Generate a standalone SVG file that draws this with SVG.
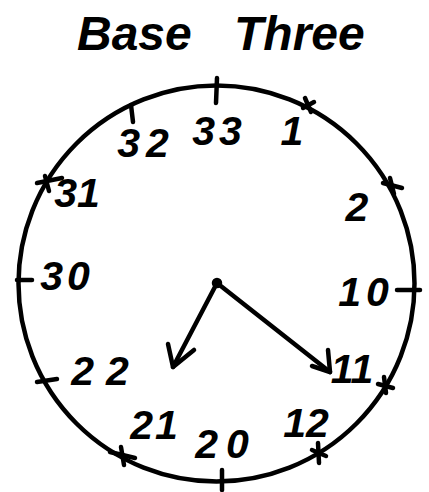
<svg xmlns="http://www.w3.org/2000/svg" width="429" height="492" viewBox="0 0 429 492">
<style>
.t{font-family:"Liberation Sans",Arial,sans-serif;font-style:italic;font-weight:bold;fill:#000}
.num{font-size:41px;text-anchor:middle}
.ln{stroke:#000;stroke-width:4.5;fill:none;stroke-linecap:round;stroke-linejoin:round}
</style>
<rect width="429" height="492" fill="#fff"/>
<g id="title">
<text class="t" x="77" y="50" font-size="48">Base</text>
<text class="t" x="234" y="50" font-size="48">Three</text>
</g>
<g id="dial">
<circle class="ln" cx="216.5" cy="283.5" r="198"/>
</g>
<g id="ticks" class="ln">
<line x1="217" y1="78" x2="216" y2="103"/>
<line x1="305" y1="98" x2="311" y2="112"/><line x1="303" y1="108" x2="314" y2="102"/>
<line x1="131" y1="105" x2="133" y2="122"/>
<line x1="37" y1="183" x2="62" y2="178"/><line x1="45" y1="176" x2="49" y2="191"/>
<line x1="383" y1="183" x2="402" y2="188"/><line x1="390" y1="178" x2="394" y2="194"/>
<line x1="17" y1="280" x2="32" y2="280"/>
<line x1="397" y1="290" x2="420" y2="290"/>
<line x1="37" y1="382" x2="57" y2="379"/>
<line x1="378" y1="384" x2="393" y2="388"/><line x1="384" y1="377" x2="386" y2="393"/>
<line x1="110" y1="452" x2="135" y2="458"/><line x1="121" y1="447" x2="124" y2="465"/>
<line x1="222" y1="470" x2="222" y2="490"/>
<line x1="312" y1="450" x2="326" y2="456"/><line x1="318" y1="443" x2="319" y2="463"/>
</g>
<g id="labels" class="t num">
<text x="146" y="157" letter-spacing="6">32</text>
<text x="219" y="145" letter-spacing="4">33</text>
<text x="292" y="145">1</text>
<text x="77" y="207">31</text>
<text x="357" y="221">2</text>
<text x="67" y="290" letter-spacing="4">30</text>
<text x="366" y="306" letter-spacing="5">10</text>
<text x="106" y="385" letter-spacing="12">22</text>
<text x="352" y="383">11</text>
<text x="155" y="439" letter-spacing="2">21</text>
<text x="226" y="458" letter-spacing="8">20</text>
<text x="306" y="437">12</text>
</g>
<g id="hands" class="ln">
<circle cx="217" cy="283" r="3" fill="#000"/>
<path d="M217 283 L173 367"/>
<path d="M168 344 L173 367 L194 350"/>
<path d="M217 283 L330 372"/>
<path d="M312 366 L330 372 L328 350"/>
</g>
</svg>
